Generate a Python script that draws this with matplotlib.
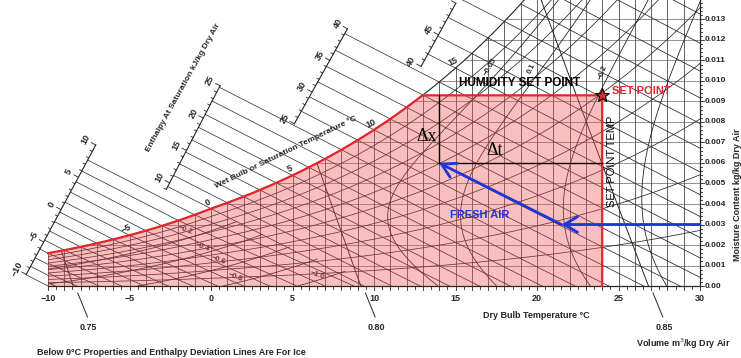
import numpy as np
import matplotlib
matplotlib.use('Agg')
import matplotlib.pyplot as plt
from matplotlib.patches import Polygon
from matplotlib import font_manager

# ---- chart values ----
db_ticks = [-10, -5, 0, 5, 10, 15, 20, 25, 30]
mc_ticks = [0.000, 0.001, 0.002, 0.003, 0.004, 0.005, 0.006, 0.007,
            0.008, 0.009, 0.010, 0.011, 0.012, 0.013]
mc_labels = ['0.00', '0.001', '0.002', '0.003', '0.004', '0.005', '0.006',
             '0.007', '0.008', '0.009', '0.010', '0.011', '0.012', '0.013']
volumes = [0.75, 0.80, 0.85]
percent_sat = [10, 20, 30, 40, 50, 60, 70, 80, 90]
wb_labels = [-5, 0, 5, 10, 15]
scale_labels = [[-10, -5, 0, 5, 10], [10, 15, 20, 25], [25, 30, 35, 40], [40, 45]]
scale_ranges = [(-10, 10), (9, 25), (25, 40), (40, 50)]
dev_water = [0.05, 0.1, 0.2, 0.3]
dev_ice = [0.2, 0.4, 0.6, 0.8, 1.0]
dev_text = ['-0.2', '-0.4', '-0.6', '-0.8', '-1.0', '-0.05', '0.1', '-0.2']

set_temp = 24.0        # set point dry bulb
set_moist = 0.0093     # humidity set point
room = (14.0, 0.006)
fresh_t = [30.0, 21.5, 14.0]
fresh_w = [0.003, 0.003, 0.006]

# ---- layout ----
W_PX, H_PX = 741, 358
X0, X1 = -12.945, 32.515
Y0, Y1 = -0.003512, 0.013951
SX = W_PX / (X1 - X0)   # px per degC
SY = H_PX / (Y1 - Y0)   # px per kg/kg

# enthalpy scales (start, end) in chart coords
SCALES = [((-11.29, 0.00063), (-7.30, 0.00654)),
          ((-2.70, 0.00478), (0.55, 0.00976)),
          ((4.97, 0.00771), (8.40, 0.01259)),
          ((12.70, 0.01044), (14.79, 0.01346))]
DEV_POS = [(-1.6, 0.00273, -20), (-0.55, 0.0019, -20), (0.43, 0.00127, -20),
           (1.47, 0.00044, -20), (6.5, 0.00054, -20),
           (17.12, 0.01068, 60), (19.69, 0.01063, 65), (24.05, 0.01044, 70)]

names = {f.name for f in font_manager.fontManager.ttflist}
CF = 'Liberation Sans Narrow' if 'Liberation Sans Narrow' in names else 'Liberation Sans'
AF = 'Liberation Sans'

INK = '#262626'
RED = '#e3262b'
BLUE = '#1f35d8'
PINK = (0.94, 0.31, 0.31)
P = 101.325


def pws(t):
    t = np.asarray(t, float)
    water = 0.61094 * np.exp(17.625 * t / (t + 243.04))
    ice = 0.61115 * np.exp(22.452 * t / (272.55 + t))
    return np.where(t >= 0, water, ice)


def w_sat(t):
    p = pws(t)
    return 0.622 * p / (P - p)


def h_of(t, w):
    return 1.006 * t + w * (2501 + 1.86 * t)


def wet_bulb_w(t, twb):
    ws = w_sat(twb)
    water = ((2501 - 2.326 * twb) * ws - 1.006 * (t - twb)) / (2501 + 1.86 * t - 4.186 * twb)
    ice = ((2830 - 0.24 * twb) * ws - 1.006 * (t - twb)) / (2830 + 1.86 * t - 2.1 * twb)
    return np.where(twb >= 0, water, ice)


def minus(v):
    return str(v).replace('-', '\u2212')


def scale_point(k, h):
    (t0, w0), (t1, w1) = SCALES[k]
    s = np.linspace(-0.6, 1.8, 600)
    hs = h_of(t0 + s * (t1 - t0), w0 + s * (w1 - w0))
    si = np.interp(h, hs, s)
    return t0 + si * (t1 - t0), w0 + si * (w1 - w0)


fig = plt.figure(figsize=(W_PX / 100, H_PX / 100), dpi=100)
ax = fig.add_axes([0, 0, 1, 1])
ax.set_xlim(X0, X1)
ax.set_ylim(Y0, Y1)
ax.axis('off')

# region under the saturation curve
tt = np.linspace(-10, 20, 400)
chart = Polygon(np.column_stack([np.r_[-10, tt, 30, 30], np.r_[0, w_sat(tt), w_sat(20), 0]]),
                closed=True, fc='none', ec='none')
ax.add_patch(chart)


def grid(x, y, lw=0.55, color=INK):
    ln, = ax.plot(x, y, color=color, lw=lw)
    ln.set_clip_path(chart)


for t in range(-10, 30):
    grid([t, t], [0, Y1 + 0.001], lw=0.5)
for w in mc_ticks[1:]:
    grid([-10, 30], [w, w], lw=0.45, color='#555555')
t_all = np.linspace(-10, 30, 300)
for p in percent_sat:
    grid(t_all, p / 100 * w_sat(t_all))
for twb in range(-13, 24):
    tl = np.linspace(twb, 32, 200)
    grid(tl, wet_bulb_w(tl, twb))
for v in volumes:
    tl = np.linspace(-12, 31, 200)
    grid(tl, (v * P / (0.2871 * (tl + 273.15)) - 1) / 1.6078, lw=0.7)

# enthalpy deviation lines
tg = np.linspace(-10, 30, 400)
wg = np.linspace(0, 0.014, 300)
T, Wg = np.meshgrid(tg, wg)
lo = np.full_like(T, -40.0)
hi = T.copy()
for _ in range(50):
    mid = 0.5 * (lo + hi)
    below = wet_bulb_w(T, mid) < Wg
    lo = np.where(below, mid, lo)
    hi = np.where(below, hi, mid)
twb_g = 0.5 * (lo + hi)
wsb = w_sat(twb_g)
above = Wg > w_sat(T)
dw = np.ma.masked_where((twb_g < 0) | above, (wsb - Wg) * 4.186 * twb_g)
di = np.ma.masked_where((twb_g >= 0) | above, (wsb - Wg) * (333.4 - 2.1 * twb_g))
for d, lev in ((dw, dev_water), (di, dev_ice)):
    cs = ax.contour(T, Wg, d, levels=lev, colors=INK, linewidths=0.6)
    cs.set_clip_path(chart)
for txt, (x, y, r) in zip(dev_text, DEV_POS):
    ax.text(x, y, minus(txt), rotation=r, ha='center', va='center', fontsize=5.5,
            fontweight='bold', family=CF, color=INK, zorder=2)

# saturation curve
ts = np.linspace(-10, 19.8, 300)
ax.plot(ts, w_sat(ts), color=INK, lw=0.8)

# enthalpy scales and the wet bulb lines that run to them
for k, (h_lo, h_hi) in enumerate(scale_ranges):
    (t0, w0), (t1, w1) = SCALES[k]
    dx, dy = (t1 - t0) * SX, (w1 - w0) * SY
    n = np.hypot(dx, dy)
    nx, ny = -dy / n, dx / n
    a, b = scale_point(k, h_lo), scale_point(k, h_hi)
    ax.plot([a[0], b[0]], [a[1], b[1]], color=INK, lw=0.8)
    for h in range(h_lo, h_hi + 1):
        L = 5 if h % 5 == 0 else 2.5
        x, y = scale_point(k, h)
        ax.plot([x, x + L * nx / SX], [y, y + L * ny / SY], color=INK, lw=0.6)
    ang = np.degrees(np.arctan2(dy, dx))
    for h in scale_labels[k]:
        x, y = scale_point(k, h)
        ax.text(x + 11 * nx / SX, y + 11 * ny / SY, minus(h), rotation=ang, ha='center',
                va='center', fontsize=6.5, fontweight='bold', family=CF, color=INK)

for twb in range(-13, 19):
    h = float(h_of(twb, w_sat(twb)))
    k = 0 if twb <= -1 else 1 if twb <= 8 else 2 if twb <= 14 else 3
    x0, y0 = scale_point(k, h)
    if twb >= -10:
        x1, y1 = twb, float(w_sat(twb))
    else:
        x1, y1 = -10, (h + 10.06) / (2501 - 18.6)
    ax.plot([x0, x1], [y0, y1], color=INK, lw=0.5)

for twb in wb_labels:
    ax.annotate(minus(twb), (twb, float(w_sat(twb))), xytext=(-2.2, 4.5),
                textcoords='offset points', rotation=25, ha='center', va='center',
                fontsize=6.5, fontweight='bold', family=CF, color=INK)

ax.text(-1.72, 0.0097, 'Enthalpy At Saturation kJ/kg Dry Air', rotation=61, ha='center',
        va='center', fontsize=6, fontweight='bold', family=CF, color=INK)
ax.text(4.6, 0.00654, 'Wet Bulb or Saturation Temperature \u00b0C', rotation=26, ha='center',
        va='center', fontsize=6, fontweight='bold', family=CF, color=INK)

# pink control zone with red outline
t_fine = np.linspace(0, 20, 2001)
t_sp = np.interp(set_moist, w_sat(t_fine), t_fine)
tr = np.linspace(-10, t_sp, 200)
ax.fill(np.r_[-10, tr, set_temp, set_temp], np.r_[0, w_sat(tr), set_moist, 0],
        color=PINK, alpha=0.37, lw=0, zorder=3)
ax.plot(np.r_[tr, set_temp, set_temp], np.r_[w_sat(tr), set_moist, 0], color=RED, lw=1.6, zorder=5)

# axes
ax.plot([-10, 30], [0, 0], color=INK, lw=0.9, zorder=4)
for t in np.arange(-10, 30.01, 0.5):
    L = 4 if t % 1 == 0 else 2.5
    ax.plot([t, t], [0, -L / SY], color=INK, lw=0.6)
for t in db_ticks:
    ax.text(t, -12 / SY, minus(t), ha='center', va='center', fontsize=6.5,
            fontweight='bold', family=CF, color=INK)
ax.plot([30, 30], [0, Y1], color=INK, lw=0.9, zorder=4)
for w in np.arange(0, 0.0139, 0.0002):
    L = 4 if round(w * 10000) % 10 == 0 else 2
    ax.plot([30, 30 + L / SX], [w, w], color=INK, lw=0.6)
for w, lab in zip(mc_ticks, mc_labels):
    ax.text(30 + 5 / SX, w, lab, ha='left', va='center', fontsize=6,
            fontweight='bold', family=CF, color=INK)
for v in volumes:
    tv = v * P / 0.2871 - 273.15
    ax.plot([tv + 0.28, tv + 0.88], [-7 / SY, -31 / SY], color=INK, lw=0.7)
    ax.text(tv + 0.95, -41 / SY, f'{v:.2f}', ha='center', va='center', fontsize=6.5,
            fontweight='bold', family=CF, color=INK)

ax.text(19.94, -29 / SY, 'Dry Bulb Temperature \u00b0C', ha='center', va='center',
        fontsize=6.5, fontweight='bold', family=CF, color=INK)
ax.text(28.96, -58 / SY, 'Volume m$^3$/kg Dry Air', ha='center', va='center',
        fontsize=6.5, fontweight='bold', family=CF, color=INK)
ax.text(-10.67, -66 / SY, 'Below 0\u00b0C Properties and Enthalpy Deviation Lines Are For Ice',
        ha='left', va='center', fontsize=6.5, fontweight='bold', family=CF, color=INK)
ax.text(32.28, 0.00444, 'Moisture Content kg/kg Dry Air', rotation=90, ha='center',
        va='center', fontsize=6.5, fontweight='bold', family=CF, color=INK)

# set point annotations
ax.plot([room[0], room[0]], [room[1], set_moist], color='black', lw=1.0, zorder=6)
ax.plot([room[0], set_temp], [room[1], room[1]], color='black', lw=1.0, zorder=6)
ax.text(13.25, 0.00727, '\u0394x', ha='center', va='center', fontsize=13,
        family='Liberation Serif', zorder=7)
ax.text(17.42, 0.00663, '\u0394t', ha='center', va='center', fontsize=13,
        family='Liberation Serif', zorder=7)
ax.text(18.95, 0.0099, 'HUMIDITY SET POINT', ha='center', va='center', fontsize=8.5,
        fontweight='bold', family=AF, zorder=7)
ax.text(24.6, 0.00951, 'SET POINT', ha='left', va='center', fontsize=8,
        fontweight='bold', family=AF, color=RED, zorder=7)
ax.text(24.6, 0.0061, 'SET POINT TEMP', rotation=90, ha='center', va='center', fontsize=8,
        family=AF, zorder=7)
ax.plot(set_temp, set_moist, marker='*', ms=10, mfc=RED, mec='black', mew=0.8, zorder=8)

arrow = dict(arrowstyle='->,head_length=0.6,head_width=0.35', color=BLUE, lw=2,
             shrinkA=0, shrinkB=0, mutation_scale=16)
for i in range(len(fresh_t) - 1):
    ax.annotate('', xy=(fresh_t[i + 1], fresh_w[i + 1]), xytext=(fresh_t[i], fresh_w[i]),
                arrowprops=arrow, zorder=8)
ax.text(16.5, 0.00346, 'FRESH AIR', ha='center', va='center', fontsize=8,
        fontweight='bold', family=AF, color=BLUE, zorder=7)

fig.savefig('out.png', dpi=100)
